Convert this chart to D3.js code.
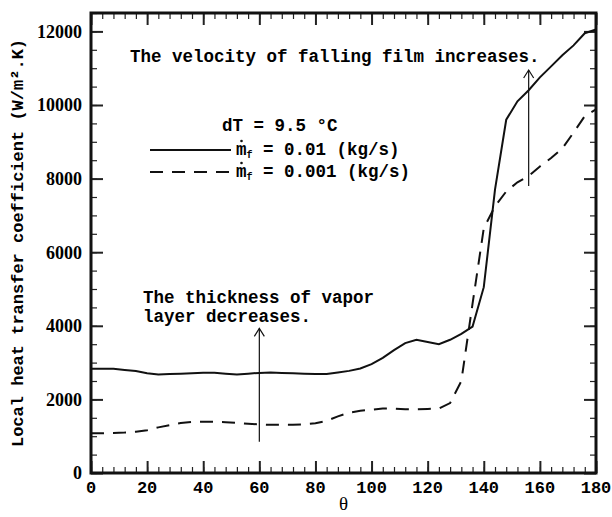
<!DOCTYPE html>
<meta charset="utf-8">
<style>
body { margin: 0; background: #fff; }
svg { display: block; }
.mono { font-family: "Liberation Mono", "Courier New", monospace; font-weight: bold; }
.serif { font-family: "Liberation Serif", "Times New Roman", serif; }
.axis .domain { display: none; }
.axis line { stroke: #222; }
</style>
<body>
<script src="https://d3js.org/d3.v7.min.js"></script>
<script>

// data (theta in degrees, h in W/m2.K)
let theta = d3.range(0, 181, 4);
let hHigh = [2830, 2830, 2830, 2800, 2770, 2710, 2680, 2690, 2700, 2710,
             2725, 2725, 2700, 2680, 2700, 2720, 2730, 2720, 2710, 2700,
             2690, 2690, 2730, 2775, 2840, 2960, 3130, 3340, 3530, 3620,
             3560, 3500, 3620, 3780, 3980, 5050, 7700, 9600, 10100, 10400,
             10750, 11050, 11350, 11620, 11950, 12050];
let hLow = [1080, 1080, 1090, 1100, 1120, 1160, 1240, 1300, 1360, 1390,
            1395, 1390, 1380, 1360, 1340, 1320, 1310, 1310, 1310, 1320,
            1350, 1420, 1540, 1640, 1690, 1720, 1750, 1750, 1730, 1730,
            1740, 1750, 1900, 2500, 4600, 6650, 7250, 7650, 7900, 8070,
            8330, 8560, 8820, 9250, 9700, 9880];
let xMajor = d3.range(0, 181, 20);
let xMinor = d3.range(0, 181, 4);
let yMajor = d3.range(0, 12001, 2000);
let yMinor = d3.range(0, 12501, 500);
let arrowTheta = [60, 156];
let arrowFrom = [850, 7800];
let arrowTo = [3930, 10950];

let width = 612, height = 517;
let margin = {top: 13, right: 16, bottom: 44, left: 91};

let svg = d3.select("body").append("svg")
  .attr("width", width)
  .attr("height", height);

let x = d3.scaleLinear().domain([0, 180]).range([margin.left, width - margin.right]);
let y = d3.scaleLinear().domain([0, 12500]).range([height - margin.bottom, margin.top]);

// ticks on all four sides, pointing inward
function ticks(axis, vals, size, w, transform) {
  svg.append("g")
    .attr("class", "axis")
    .attr("transform", transform)
    .call(axis.tickValues(vals).tickSize(size).tickSizeOuter(0).tickFormat(""))
    .selectAll("line").style("stroke-width", w);
}
let b = "translate(0," + y(0) + ")", t = "translate(0," + margin.top + ")";
let l = "translate(" + x(0) + ",0)", r = "translate(" + x(180) + ",0)";
ticks(d3.axisBottom(x), xMinor, -6, 1.2, b);
ticks(d3.axisBottom(x), xMajor, -12, 2, b);
ticks(d3.axisTop(x), xMinor, -6, 1.2, t);
ticks(d3.axisTop(x), xMajor, -12, 2, t);
ticks(d3.axisLeft(y), yMinor, -6, 1.2, l);
ticks(d3.axisLeft(y), yMajor, -12, 2, l);
ticks(d3.axisRight(y), yMinor, -6, 1.2, r);
ticks(d3.axisRight(y), yMajor, -12, 2, r);

svg.append("rect")
  .attr("x", x(0)).attr("y", margin.top)
  .attr("width", x(180) - x(0)).attr("height", y(0) - margin.top)
  .attr("fill", "none").attr("stroke", "#111").attr("stroke-width", 3);

// tick labels
svg.append("g").selectAll("text").data(yMajor).join("text")
  .attr("class", "serif")
  .attr("x", x(0) - 9).attr("y", d => y(d)).attr("dy", "0.35em")
  .attr("text-anchor", "end")
  .style("font-size", "18px").style("font-weight", "bold")
  .text(d => d);

svg.append("g").selectAll("text").data(xMajor).join("text")
  .attr("class", "mono")
  .attr("x", d => x(d)).attr("y", y(0) + 20)
  .attr("text-anchor", "middle")
  .style("font-size", "17px")
  .text(d => d);

svg.append("text")
  .attr("class", "serif")
  .attr("x", (x(0) + x(180)) / 2).attr("y", 510)
  .attr("text-anchor", "middle")
  .style("font-size", "19px")
  .text("θ");

svg.append("text")
  .attr("class", "mono")
  .attr("transform", "translate(23," + (height - margin.bottom + margin.top) / 2 + ") rotate(-90)")
  .attr("text-anchor", "middle")
  .style("font-size", "17px")
  .text("Local heat transfer coefficient (W/m².K)");

// curves
let line = d3.line().x((d, i) => x(theta[i])).y(d => y(d));

svg.append("path").datum(hHigh)
  .attr("d", line)
  .attr("fill", "none").attr("stroke", "#111").attr("stroke-width", 2);

svg.append("path").datum(hLow)
  .attr("d", line)
  .attr("fill", "none").attr("stroke", "#111").attr("stroke-width", 2)
  .attr("stroke-dasharray", "13,9");

// arrows
arrowTheta.forEach(function(a, i) {
  let ax = x(a), y0 = y(arrowFrom[i]), y1 = y(arrowTo[i]);
  svg.append("line")
    .attr("x1", ax).attr("x2", ax).attr("y1", y0).attr("y2", y1)
    .attr("stroke", "#111").attr("stroke-width", 1.2);
  svg.append("path")
    .attr("d", "M" + (ax - 5) + "," + (y1 + 8) + "L" + ax + "," + y1 + "L" + (ax + 5) + "," + (y1 + 8))
    .attr("fill", "none").attr("stroke", "#111").attr("stroke-width", 1.2);
});

// annotations
function note(tx, ty, str) {
  svg.append("text").attr("class", "mono")
    .attr("x", tx).attr("y", ty)
    .style("font-size", "17.5px")
    .text(str);
}
note(130, 62, "The velocity of falling film increases.");
note(143, 303, "The thickness of vapor");
note(143, 322, "layer decreases.");
note(222, 131, "dT = 9.5 °C");

// legend
let legend = [{dash: null, label: " = 0.01 (kg/s)", ly: 150},
              {dash: "13,9", label: " = 0.001 (kg/s)", ly: 172}];
legend.forEach(function(d) {
  svg.append("line")
    .attr("x1", 150).attr("x2", 231).attr("y1", d.ly).attr("y2", d.ly)
    .attr("stroke", "#111").attr("stroke-width", 2)
    .attr("stroke-dasharray", d.dash);
  let tx = svg.append("text").attr("class", "mono")
    .attr("x", 236).attr("y", d.ly + 5)
    .style("font-size", "17.5px");
  tx.append("tspan").text("m");
  tx.append("tspan").attr("dy", 3).style("font-size", "10px").text("f");
  tx.append("tspan").attr("dy", -3).text(d.label);
  svg.append("circle")
    .attr("cx", 241.5).attr("cy", d.ly - 9).attr("r", 1.3)
    .attr("fill", "#111");
});

</script>
</body>
